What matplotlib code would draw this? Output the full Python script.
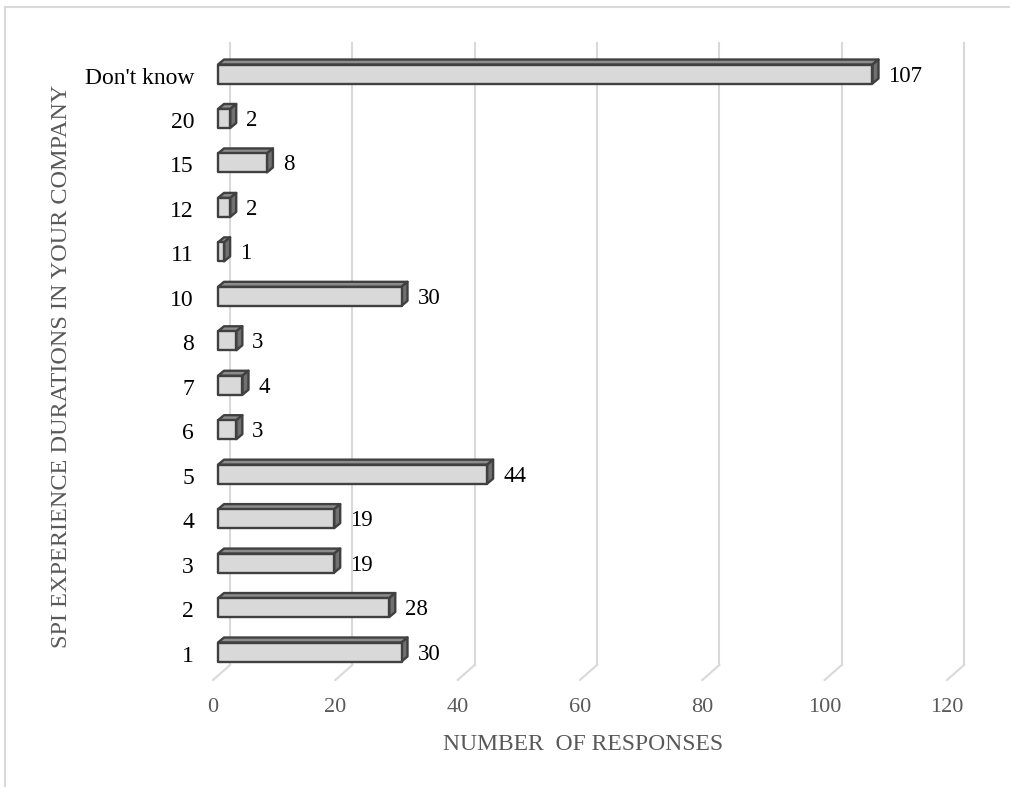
import numpy as np
import matplotlib
matplotlib.use("Agg")
import matplotlib.pyplot as plt
from matplotlib.patches import Polygon, Rectangle
from matplotlib.lines import Line2D

categories = ["1", "2", "3", "4", "5", "6", "7", "8", "10", "11", "12", "15", "20", "Don't know"]
responses = [30, 28, 19, 19, 44, 3, 4, 3, 30, 1, 2, 8, 2, 107]
x_ticks = [0, 20, 40, 60, 80, 100, 120]

W, H = 1010, 787
FRONT = "#d9d9d9"
TOP = "#8c8c8c"
SIDE = "#707070"
EDGE = "#404040"
GRID = "#d9d9d9"
GRAY_TXT = "#595959"

plt.rcParams["font.family"] = ["Liberation Serif", "DejaVu Serif"]

fig = plt.figure(figsize=(W / 100, H / 100), dpi=100)

# axes box in pixels: x 0..120 maps onto the floor's front edge
ax_l, ax_r = 213, 947
ax_top, ax_bot = 58, 680
ax = fig.add_axes([ax_l / W, 1 - ax_bot / H, (ax_r - ax_l) / W, (ax_bot - ax_top) / H])
ax.set_xlim(0, 120)
row_px = 44.46
y_lo = -(ax_bot - 652) / row_px
y_hi = len(categories) - 1 + (652 - row_px * (len(categories) - 1) - ax_top) / row_px
ax.set_ylim(y_lo, y_hi)
ax.axis("off")

px_x = (ax_r - ax_l) / 120.0   # pixels per response
px_y = row_px                  # pixels per category row


def ux(px):
    return px / px_x


def uy(px):
    return px / px_y


# back wall gridlines plus the slanted floor edge
wall_dx, wall_dy = ux(17), uy(15)
for t in x_ticks:
    ax.plot([t + wall_dx, t + wall_dx], [y_lo + wall_dy, y_hi + wall_dy],
            color=GRID, lw=1.5, clip_on=False, zorder=1)
    ax.plot([t, t + wall_dx], [y_lo, y_lo + wall_dy],
            color=GRID, lw=1.5, clip_on=False, zorder=1)
    ax.text(t, y_lo - uy(28), str(t), ha="center", va="center",
            fontsize=16, color=GRAY_TXT)

# 3D-style bars: front face, top face and right face
bar_h = uy(19)
fx, fy = ux(5), uy(4)       # front plane offset from floor front
dx, dy = ux(6), uy(5)       # bar depth
for i, (cat, v) in enumerate(zip(categories, responses)):
    x0, x1 = fx, fx + v
    yb, yt = i - bar_h / 2, i + bar_h / 2
    top = Polygon([(x0, yt), (x1, yt), (x1 + dx, yt + dy), (x0 + dx, yt + dy)],
                  closed=True, fc=TOP, ec=EDGE, lw=1.7, zorder=3, joinstyle="round")
    side = Polygon([(x1, yb), (x1 + dx, yb + dy), (x1 + dx, yt + dy), (x1, yt)],
                   closed=True, fc=SIDE, ec=EDGE, lw=1.7, zorder=3, joinstyle="round")
    front = Rectangle((x0, yb), v, bar_h, fc=FRONT, ec=EDGE, lw=1.7, zorder=4,
                      joinstyle="round")
    for p in (top, side, front):
        ax.add_patch(p)
    ax.text(x1 + ux(16), i - uy(2), str(v), ha="left", va="center",
            fontsize=16.5, color="black", zorder=5)
    ax.text(-ux(19), i - uy(4), cat, ha="right", va="center",
            fontsize=17, color="black")

fig.text(583 / W, 1 - 745 / H, "NUMBER  OF RESPONSES", ha="center", va="center",
         fontsize=17, color=GRAY_TXT)
fig.text(62 / W, 1 - 366 / H, "SPI EXPERIENCE DURATIONS IN YOUR COMPANY",
         ha="center", va="center", rotation=90, fontsize=17.5, color=GRAY_TXT)

# chart frame
fig.add_artist(Line2D([4.5 / W, 4.5 / W], [0, 1 - 7 / H], transform=fig.transFigure,
                      color="#d9d9d9", lw=1.5))
fig.add_artist(Line2D([4.5 / W, 1], [1 - 7 / H, 1 - 7 / H], transform=fig.transFigure,
                      color="#d9d9d9", lw=1.5))

fig.savefig("out.png", dpi=100, facecolor="white")
